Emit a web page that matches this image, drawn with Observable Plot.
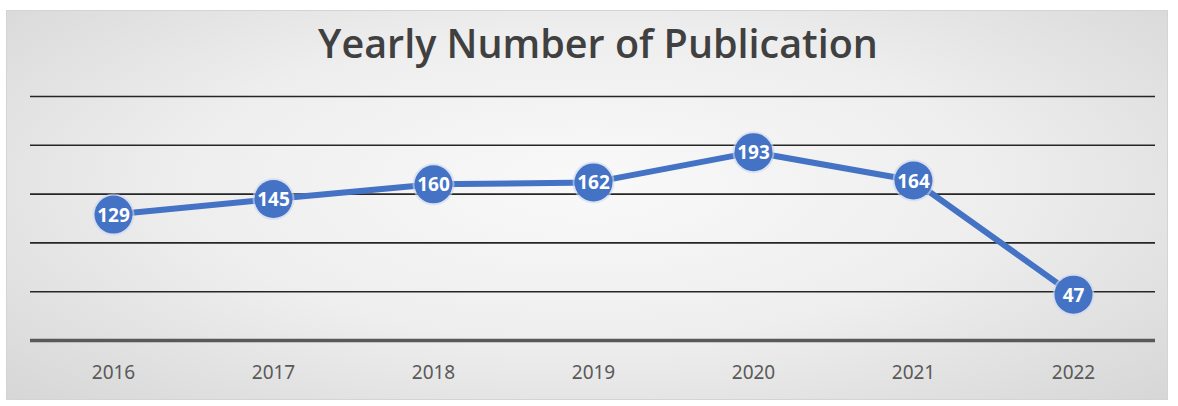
<!DOCTYPE html>
<html>
<head>
<meta charset="utf-8">
<script src="https://cdn.jsdelivr.net/npm/d3@7"></script>
<script src="https://cdn.jsdelivr.net/npm/@observablehq/plot@0.6"></script>
<style>
  html, body { margin: 0; padding: 0; background: #ffffff; }
  #wrap { position: relative; width: 1178px; height: 406px; overflow: hidden; background: #ffffff; }
  #frame { position: absolute; left: 6px; top: 10px; width: 1162px; height: 390px; box-sizing: border-box;
    border: 1px solid #d4d4d4;
    background: radial-gradient(ellipse 70% 80% at 50% 45%, #f9f9f9 0%, #eeeeee 50%, #d6d6d6 100%); }
  #title { position: absolute; left: 9px; width: 1178px; top: 16px; text-align: center;
    font-family: "Open Sans", "Noto Sans", sans-serif; font-weight: 600; font-size: 39.5px; color: #404040; }
  #chart { position: absolute; left: 0; top: 0; }
</style>
</head>
<body>
<div id="wrap">
  <div id="frame"></div>
  <div id="title">Yearly Number of Publication</div>
  <div id="chart"></div>
</div>
<script>
const years = ["2016", "2017", "2018", "2019", "2020", "2021", "2022"];
const counts = [129, 145, 160, 162, 193, 164, 47];
const gridValues = [50, 100, 150, 200, 250];

const data = years.map((y, i) => ({year: y, count: counts[i]}));

const chart = Plot.plot({
  width: 1178,
  height: 406,
  marginLeft: 30,
  marginRight: 23,
  marginTop: 96,
  marginBottom: 66,
  style: {background: "transparent", fontFamily: "'Noto Sans', sans-serif"},
  x: {type: "point", domain: years, padding: 0.5, label: null},
  y: {domain: [0, 250], axis: null},
  marks: [
    Plot.ruleY(gridValues, {stroke: "#262626", strokeWidth: 1.6}),
    Plot.ruleY([0], {stroke: "#595959", strokeWidth: 3.5}),
    Plot.axisX({tickSize: 0, tickPadding: 25, fontSize: 19, fill: "#595959", color: "#595959"}),
    Plot.line(data, {x: "year", y: "count", stroke: "#4472C4", strokeWidth: 6}),
    Plot.dot(data, {x: "year", y: "count", r: 21, fill: "#c9d7f0", fillOpacity: 0.6, stroke: "none"}),
    Plot.dot(data, {x: "year", y: "count", r: 19, fill: "#4472C4", stroke: "none"}),
    Plot.text(data, {x: "year", y: "count", text: d => String(d.count), fill: "white", fontSize: 19, fontWeight: "bold", dy: 1})
  ]
});
document.getElementById("chart").appendChild(chart);
</script>
</body>
</html>
